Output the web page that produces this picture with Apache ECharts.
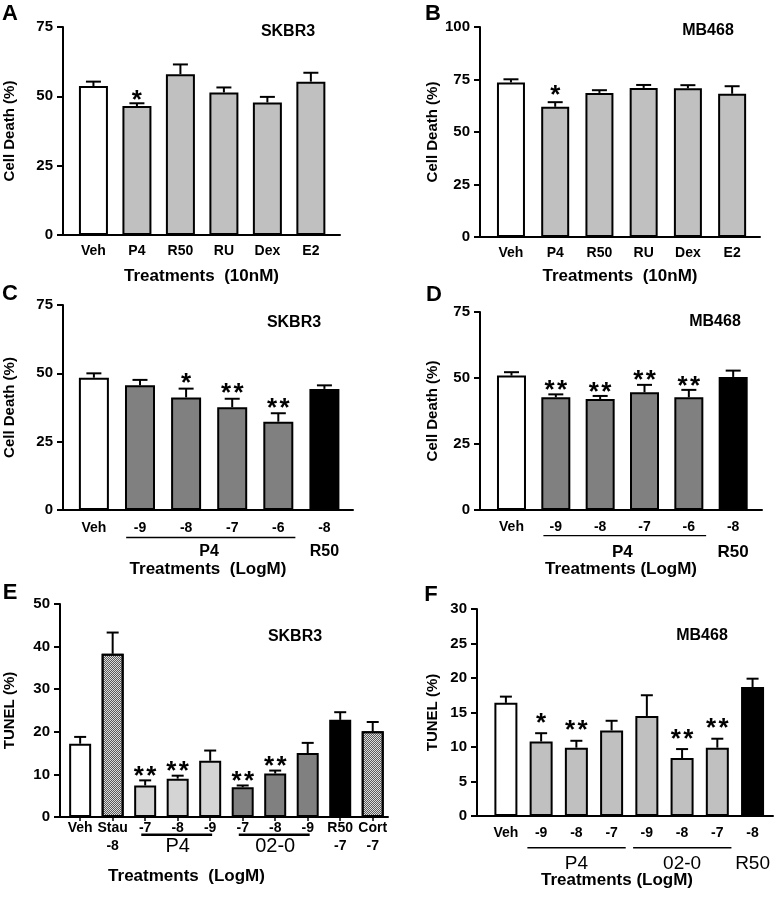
<!DOCTYPE html>
<html><head><meta charset="utf-8">
<script src="https://cdn.jsdelivr.net/npm/echarts@6/dist/echarts.min.js"></script>
<style>html,body{margin:0;padding:0;background:#fff}#c{width:777px;height:897px}</style>
</head><body><div id="c"></div><script>
// ---------------- DATA ----------------
const catsA = ['Veh','P4','R50','RU','Dex','E2'];
const valsA = [53.7, 46.5, 58.0, 51.4, 47.8, 55.3];
const errA  = [1.6, 1.0, 3.5, 1.8, 2.0, 3.2];
const sigA  = ['', '*', '', '', '', ''];

const catsB = ['Veh','P4','R50','RU','Dex','E2'];
const valsB = [73.6, 62.0, 68.6, 71.0, 70.8, 68.2];
const errB  = [1.5, 2.2, 1.3, 1.4, 1.5, 3.6];
const sigB  = ['', '*', '', '', '', ''];

const catsC = ['Veh','-9','-8','-7','-6','-8'];
const valsC = [48.4, 45.6, 41.2, 37.6, 32.3, 44.3];
const errC  = [1.6, 2.0, 3.2, 3.1, 3.1, 1.3];
const sigC  = ['', '', '*', '**', '**', ''];
const groupsC = [{name:'P4', from:1, to:4, line:true}, {name:'R50', from:5, to:5, line:false}];

const catsD = ['Veh','-9','-8','-7','-6','-8'];
const valsD = [50.9, 42.7, 42.0, 44.6, 42.7, 50.4];
const errD  = [1.3, 1.1, 1.2, 2.8, 2.8, 2.4];
const sigD  = ['', '**', '**', '**', '**', ''];
const groupsD = [{name:'P4', from:1, to:4, line:true}, {name:'R50', from:5, to:5, line:false}];

const catsE = ['Veh','Stau\n-8','-7','-8','-9','-7','-8','-9','R50\n-7','Cort\n-7'];
const valsE = [17.2, 38.3, 7.4, 9.0, 13.2, 7.0, 10.2, 15.0, 22.8, 20.1];
const errE  = [1.6, 5.0, 1.2, 0.7, 2.4, 0.4, 0.7, 2.4, 1.8, 2.2];
const sigE  = ['', '', '**', '**', '', '**', '**', '', '', ''];
const groupsE = [{name:'P4', from:2, to:4, line:true}, {name:'02-0', from:5, to:7, line:true}];

const catsF = ['Veh','-9','-8','-7','-9','-8','-7','-8'];
const valsF = [16.4, 10.8, 9.9, 12.4, 14.5, 8.4, 9.9, 18.7];
const errF  = [0.9, 1.2, 1.0, 1.4, 3.0, 1.3, 1.3, 1.2];
const sigF  = ['', '*', '**', '', '', '**', '**', ''];
const groupsF = [{name:'P4', from:1, to:3, line:true}, {name:'02-0', from:4, to:6, line:true}, {name:'R50', from:7, to:7, line:false}];

// ---------------- STYLE ----------------
const FF = '"Liberation Sans", Arial, Helvetica, sans-serif';
const W = '#ffffff', LG = '#c0c0c0', VLG = '#d4d4d4', DG = '#808080', BK = '#000000', HATCH = 'hatch';
const colA = [W, LG, LG, LG, LG, LG];
const colB = [W, LG, LG, LG, LG, LG];
const colC = [W, DG, DG, DG, DG, BK];
const colD = [W, DG, DG, DG, DG, BK];
const colE = [W, HATCH, VLG, VLG, VLG, DG, DG, DG, BK, HATCH];
const colF = [W, LG, LG, LG, LG, LG, LG, BK];

const STAR_FS = 26, STAR_SP = 12.5;

const panels = [
  {cats:catsA, vals:valsA, err:errA, sig:sigA, col:colA, groups:[],
   grid:{left:63, top:27, width:277, height:208}, xMin:-0.70, xMax:5.67, yMax:75, yInt:25,
   barW:29, capW:15, starGap:8, yName:'Cell Death (%)', yGap:46, xName:'Treatments  (10nM)', xGap:33, xPadR:0, lblMargin:8,
   letter:'A', letterPos:[10,14], title:'SKBR3', titlePos:[288,32]},
  {cats:catsB, vals:valsB, err:errB, sig:sigB, col:colB, groups:[],
   grid:{left:480, top:27, width:280, height:210}, xMin:-0.70, xMax:5.63, yMax:100, yInt:25,
   barW:28, capW:15, starGap:12, yName:'Cell Death (%)', yGap:40, xName:'Treatments  (10nM)', xGap:31, xPadR:0, lblMargin:8,
   letter:'B', letterPos:[433,14], title:'MB468', titlePos:[708,31]},
  {cats:catsC, vals:valsC, err:errC, sig:sigC, col:colC, groups:groupsC,
   grid:{left:63, top:305, width:290, height:205}, xMin:-0.67, xMax:5.62, yMax:75, yInt:25,
   barW:30, capW:15, starGap:10, yName:'Cell Death (%)', yGap:46, xName:'Treatments  (LogM)', xGap:51, xPadR:0, lblMargin:10,
   gExtL:0.3, gExtR:0.37, gLineDy:27.5, gLineW:1.3, gTextDy:42, gFont:'bold 16px '+FF,
   letter:'C', letterPos:[10,294], title:'SKBR3', titlePos:[294,323]},
  {cats:catsD, vals:valsD, err:errD, sig:sigD, col:colD, groups:groupsD,
   grid:{left:480, top:312, width:282, height:198}, xMin:-0.71, xMax:5.65, yMax:75, yInt:25,
   barW:29, capW:15, starGap:9, yName:'Cell Death (%)', yGap:40, xName:'Treatments (LogM)', xGap:51, xPadR:0, lblMargin:9,
   gExtL:0.28, gExtR:0.39, gLineDy:25.7, gLineW:1.3, gTextDy:42, gFont:'bold 17px '+FF,
   letter:'D', letterPos:[434,295], title:'MB468', titlePos:[715,322]},
  {cats:catsE, vals:valsE, err:errE, sig:sigE, col:colE, groups:groupsE,
   grid:{left:60, top:604, width:328, height:213}, xMin:-0.62, xMax:9.47, yMax:50, yInt:10,
   barW:22, capW:12, starGap:9, yName:'TUNEL (%)', yGap:43, xName:'Treatments  (LogM)', xGap:51, xPadR:75, lblMargin:2,
   ticks:true, lblLH:18,
   gExtL:0.12, gExtR:0.06, gLineDy:17.7, gLineW:2.5, gTextDy:29.5, gFont:'20px '+FF,
   letter:'E', letterPos:[10,593], title:'SKBR3', titlePos:[295,637]},
  {cats:catsF, vals:valsF, err:errF, sig:sigF, col:colF, groups:groupsF,
   grid:{left:477, top:609, width:296, height:207}, xMin:-0.82, xMax:7.58, yMax:30, yInt:5,
   barW:23, capW:12, starGap:15, yName:'TUNEL (%)', yGap:37, xName:'Treatments (LogM)', xGap:56, xPadR:16, lblMargin:9,
   gExtL:0.39, gExtR:0.4, gLineDy:31.7, gLineW:1.5, gTextDy:47.5, gFont:'19px '+FF,
   letter:'F', letterPos:[431,595], title:'MB468', titlePos:[702,636]}
];

const hatchDecal = {symbol:'rect', symbolSize:1, color:'#5a5a5a',
  dashArrayX:[[1,1],[0,1,1,0]], dashArrayY:[1,0], rotation:0};

const grids = [], xAxes = [], yAxes = [], series = [], graphics = [];

panels.forEach((p, idx) => {
  grids.push(Object.assign({containLabel:false}, p.grid));
  const idxs = p.cats.map((c,i)=>i);
  xAxes.push({
    type:'value', gridIndex:idx, min:p.xMin, max:p.xMax,
    axisLine:{show:true, onZero:false, lineStyle:{color:'#000', width:2}},
    axisTick:p.ticks ? {show:true, customValues:idxs, length:4, lineStyle:{color:'#000', width:1.5}} : {show:false},
    splitLine:{show:false},
    axisLabel:{customValues:idxs, formatter:(v)=>p.cats[Math.round(v)], color:'#000',
      fontFamily:FF, fontWeight:'bold', fontSize:14, margin:p.lblMargin, lineHeight:p.lblLH || 16},
    name:p.xName, nameLocation:'middle', nameGap:p.xGap,
    nameTextStyle:{color:'#000', fontFamily:FF, fontWeight:'bold', fontSize:17, padding:[0, p.xPadR, 0, 0]}
  });
  yAxes.push({
    type:'value', gridIndex:idx, min:0, max:p.yMax, interval:p.yInt,
    axisLine:{show:true, onZero:false, lineStyle:{color:'#000', width:2}},
    axisTick:{show:true, length:6, lineStyle:{color:'#000', width:2}},
    splitLine:{show:false},
    axisLabel:{color:'#000', fontFamily:FF, fontWeight:'bold', fontSize:15, margin:10},
    name:p.yName, nameLocation:'middle', nameGap:p.yGap,
    nameTextStyle:{color:'#000', fontFamily:FF, fontWeight:'bold', fontSize:15}
  });
  series.push({
    type:'bar', xAxisIndex:idx, yAxisIndex:idx, barWidth:p.barW, silent:true, z:2,
    data:p.vals.map((v,i)=>{
      const c = p.col[i];
      const st = {borderColor:'#000', borderWidth:2};
      if (c === HATCH) { st.color = '#dcdcdc'; st.decal = hatchDecal; } else { st.color = c; }
      return {value:[i, v], itemStyle:st};
    })
  });
  series.push({
    type:'custom', xAxisIndex:idx, yAxisIndex:idx, z:3, silent:true,
    data:p.vals.map((v,i)=>[i, v, p.err[i]]),
    renderItem:(params, api)=>{
      const i = params.dataIndex;
      const x = api.value(0), v = api.value(1), e = api.value(2);
      const b = api.coord([x, v]), t = api.coord([x, v + e]);
      const hw = p.capW / 2;
      const ch = [
        {type:'line', shape:{x1:b[0], y1:b[1], x2:t[0], y2:t[1]}, style:{stroke:'#000', lineWidth:2}},
        {type:'line', shape:{x1:t[0]-hw, y1:t[1], x2:t[0]+hw, y2:t[1]}, style:{stroke:'#000', lineWidth:2}}
      ];
      const n = p.sig[i].length;
      for (let k = 0; k < n; k++) {
        const sx = t[0] + (k - (n - 1) / 2) * STAR_SP;
        ch.push({type:'text', style:{text:'*', x:sx, y:t[1] - p.starGap + 0.21 * STAR_FS,
          fill:'#000', font:'bold ' + STAR_FS + 'px ' + FF,
          align:'center', verticalAlign:'middle', textAlign:'center', textVerticalAlign:'middle'}});
      }
      return {type:'group', children:ch};
    }
  });
  if (p.groups.length) {
    series.push({
      type:'custom', xAxisIndex:idx, yAxisIndex:idx, z:3, silent:true, clip:false,
      data:p.groups.map(g=>[g.from, g.to]),
      renderItem:(params, api)=>{
        const g = p.groups[params.dataIndex];
        const a = api.coord([api.value(0), 0]), bb = api.coord([api.value(1), 0]);
        const l = api.coord([api.value(0) - p.gExtL, 0]), r = api.coord([api.value(1) + p.gExtR, 0]);
        const ch = [];
        if (g.line) ch.push({type:'line', shape:{x1:l[0], y1:a[1] + p.gLineDy, x2:r[0], y2:a[1] + p.gLineDy},
          style:{stroke:'#000', lineWidth:p.gLineW}});
        ch.push({type:'text', style:{text:g.name, x:(a[0] + bb[0]) / 2, y:a[1] + p.gTextDy, fill:'#000', font:p.gFont,
          align:'center', verticalAlign:'middle', textAlign:'center', textVerticalAlign:'middle'}});
        return {type:'group', children:ch};
      }
    });
  }
  graphics.push({type:'text', x:p.letterPos[0], y:p.letterPos[1], style:{text:p.letter, fill:'#000',
    font:'bold 22px ' + FF, textAlign:'center', textVerticalAlign:'middle'}});
  graphics.push({type:'text', x:p.titlePos[0], y:p.titlePos[1], style:{text:p.title, fill:'#000',
    font:'bold 16px ' + FF, textAlign:'center', textVerticalAlign:'middle'}});
});

const chart = echarts.init(document.getElementById('c'), null, {renderer:'canvas'});
chart.setOption({
  backgroundColor:'#fff', animation:false,
  grid:grids, xAxis:xAxes, yAxis:yAxes, series:series, graphic:graphics
});
</script></body></html>
